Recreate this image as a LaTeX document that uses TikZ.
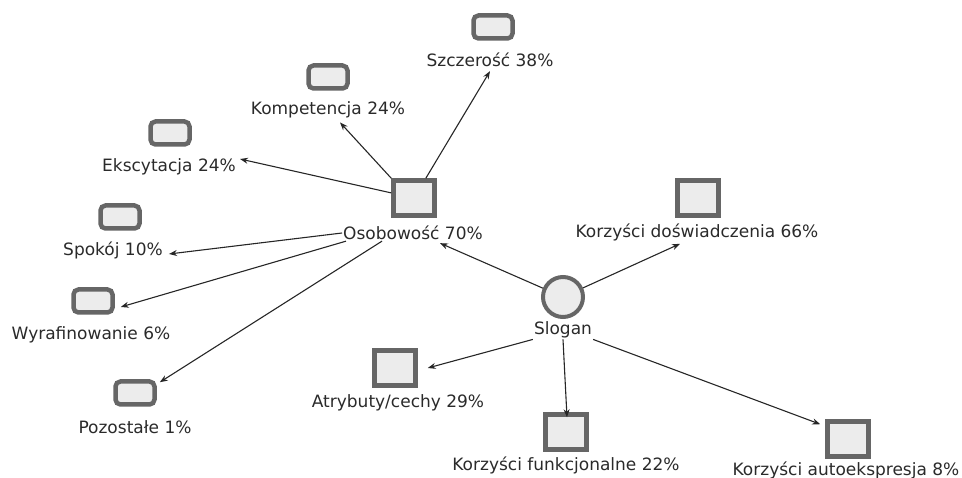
\documentclass[tikz,border=0pt]{standalone}
\usepackage{fontspec}
\setmainfont{DejaVu Sans}
\usetikzlibrary{arrows.meta}
\definecolor{boxline}{HTML}{666666}
\definecolor{boxfill}{HTML}{ECECEC}
\definecolor{txt}{HTML}{2A2A2A}
\tikzset{
  bigbox/.style={draw=boxline,fill=boxfill,line width=4.5pt,minimum width=41pt,minimum height=35pt,inner sep=0pt},
  smallbox/.style={draw=boxline,fill=boxfill,line width=4.5pt,rounded corners=5pt,minimum width=39pt,minimum height=23pt,inner sep=0pt},
  roundbox/.style={circle,draw=boxline,fill=boxfill,line width=4pt,minimum size=40pt,inner sep=0pt},
  lbl/.style={text=txt,font=\fontsize{17}{20}\selectfont,inner sep=1pt},
  link/.style={draw=black!85,line width=1.1pt,-{Stealth[length=8pt,width=6pt]}}
}
\begin{document}
\begin{tikzpicture}[x=1pt,y=-1pt]
\useasboundingbox (0,0) rectangle (962,478);

% centre
\node[roundbox] (slog) at (563,297) {};
\node[lbl] (slogL) at (563,330) {Slogan};

% osobowosc
\node[bigbox] (osob) at (414,198) {};
\node[lbl] (osobL) at (413,233) {Osobowość 70\%};

\node[smallbox] (szcz) at (493,27) {};
\node[lbl] (szczL) at (490,60) {Szczerość 38\%};

\node[smallbox] (komp) at (328,77) {};
\node[lbl] (kompL) at (328,110) {Kompetencja 24\%};

\node[smallbox] (eksc) at (170,133) {};
\node[lbl] (ekscL) at (169,167) {Ekscytacja 24\%};

\node[smallbox] (spok) at (120,217) {};
\node[lbl] (spokL) at (113,250) {Spokój 10\%};

\node[smallbox] (wyraf) at (93,301) {};
\node[lbl] (wyrafL) at (91,335) {Wyrafinowanie 6\%};

\node[smallbox] (pozo) at (135,393) {};
\node[lbl] (pozoL) at (135,427) {Pozostałe 1\%};

% korzysci
\node[bigbox] (kd) at (698,198) {};
\node[lbl] (kdL) at (697,232) {Korzyści doświadczenia 66\%};

\node[bigbox] (atr) at (395,368) {};
\node[lbl] (atrL) at (398,403) {Atrybuty/cechy 29\%};

\node[bigbox] (kf) at (566,432) {};
\node[lbl] (kfL) at (566,465) {Korzyści funkcjonalne 22\%};

\node[bigbox] (ka) at (848,439) {};
\node[lbl] (kaL) at (846,470) {Korzyści autoekspresja 8\%};

% links
\draw[link] (slog) -- ([xshift=27pt,yshift=-2pt]osobL.south);
\draw[link] (slog) -- ([xshift=-17pt,yshift=-2pt]kdL.south);
\draw[link] (slogL.south west) -- ([xshift=10pt]atr.east);
\draw[link] (slogL.south) -- ([xshift=1pt,yshift=-5pt]kf.north);
\draw[link] (slogL.south east) -- ([xshift=-5pt,yshift=-5pt]ka.north west);

\draw[link] (osob) -- ([yshift=-3pt]szczL.south);
\draw[link] (osob.north west) -- ([xshift=12pt,yshift=-3pt]kompL.south);
\draw[link] (osob) -- ([xshift=3pt,yshift=8pt]ekscL.east);
\draw[link] (osobL.west) -- ([xshift=5pt,yshift=-4pt]spokL.east);
\draw[link] ([xshift=4pt]osobL.south west) -- ([xshift=6pt,yshift=-6pt]wyraf.east);
\draw[link] ([xshift=-31pt]osobL.south) -- ([xshift=3pt,yshift=-3pt]pozo.north east);
\end{tikzpicture}
\end{document}
